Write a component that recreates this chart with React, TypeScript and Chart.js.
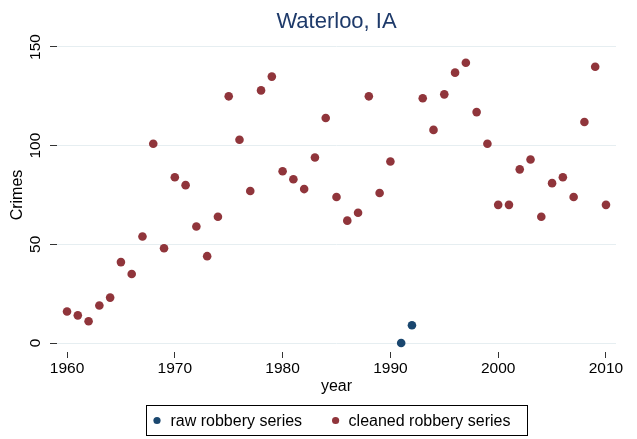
import React, { useEffect, useRef } from "react";
import { Chart, registerables } from "chart.js";

Chart.register(...registerables);

const chartTitle = "Waterloo, IA";
const xAxisTitle = "year";
const yAxisTitle = "Crimes";

const rawLabel = "raw robbery series";
const cleanedLabel = "cleaned robbery series";

const rawYears = [1991, 1992];
const rawValues = [0, 9];

const cleanedYears = [
  1960, 1961, 1962, 1963, 1964, 1965, 1966, 1967, 1968, 1969,
  1970, 1971, 1972, 1973, 1974, 1975, 1976, 1977, 1978, 1979,
  1980, 1981, 1982, 1983, 1984, 1985, 1986, 1987, 1988, 1989,
  1990, 1993, 1994, 1995, 1996, 1997, 1998, 1999, 2000, 2001,
  2002, 2003, 2004, 2005, 2006, 2007, 2008, 2009, 2010,
];
const cleanedValues = [
  16, 14, 11, 19, 23, 41, 35, 54, 101, 48,
  84, 80, 59, 44, 64, 125, 103, 77, 128, 135,
  87, 83, 78, 94, 114, 74, 62, 66, 125, 76,
  92, 124, 108, 126, 137, 142, 117, 101, 70, 70,
  88, 93, 64, 81, 84, 74, 112, 140, 70,
];

const xTicks = [1960, 1970, 1980, 1990, 2000, 2010];
const yTicks = [0, 50, 100, 150];

const FONT = "'Liberation Sans', Arial, Helvetica, sans-serif";
const NAVY = "#1a476f";
const TITLE_NAVY = "#1e3a6a";
const MAROON = "#90353b";

const titlePlugin = {
  id: "stataTitle",
  afterDraw(chart: any) {
    const { ctx, chartArea } = chart;
    ctx.save();
    ctx.font = `22px ${FONT}`;
    ctx.fillStyle = TITLE_NAVY;
    ctx.textAlign = "center";
    ctx.textBaseline = "alphabetic";
    ctx.fillText(chartTitle, (chartArea.left + chartArea.right) / 2, 27.5);
    ctx.restore();
  },
};

const legendPlugin = {
  id: "stataLegend",
  afterDraw(chart: any) {
    const { ctx, chartArea } = chart;
    ctx.save();
    ctx.font = `16px ${FONT}`;
    const w1 = ctx.measureText(rawLabel).width;
    const w2 = ctx.measureText(cleanedLabel).width;
    const total = 11 + 13.5 + w1 + 33.5 + 13 + w2 + 16.5;
    const cx = (chartArea.left + chartArea.right) / 2;
    const left = Math.round(cx - total / 2);
    const top = 405;
    const h = 30;
    ctx.strokeStyle = "#000";
    ctx.lineWidth = 1;
    ctx.strokeRect(left + 0.5, top + 0.5, Math.round(total), h);
    const dy = 420.5;
    const d1 = left + 11;
    const t1 = d1 + 13.5;
    const d2 = t1 + w1 + 33.5;
    const t2 = d2 + 13;
    ctx.fillStyle = NAVY;
    ctx.beginPath();
    ctx.arc(d1, dy, 3.6, 0, Math.PI * 2);
    ctx.fill();
    ctx.fillStyle = MAROON;
    ctx.beginPath();
    ctx.arc(d2, dy, 3.6, 0, Math.PI * 2);
    ctx.fill();
    ctx.fillStyle = "#000";
    ctx.textAlign = "left";
    ctx.textBaseline = "alphabetic";
    ctx.fillText(rawLabel, t1, 426);
    ctx.fillText(cleanedLabel, t2, 426);
    ctx.restore();
  },
};

export default function App() {
  const canvasRef = useRef<HTMLCanvasElement | null>(null);

  useEffect(() => {
    const canvas = canvasRef.current;
    if (!canvas) return;
    const chart = new Chart(canvas, {
      type: "scatter",
      data: {
        datasets: [
          {
            label: rawLabel,
            data: rawYears.map((x, i) => ({ x, y: rawValues[i] })),
            backgroundColor: NAVY,
            borderColor: NAVY,
            borderWidth: 0,
            pointRadius: 4.3,
          },
          {
            label: cleanedLabel,
            data: cleanedYears.map((x, i) => ({ x, y: cleanedValues[i] })),
            backgroundColor: MAROON,
            borderColor: MAROON,
            borderWidth: 0,
            pointRadius: 4.3,
          },
        ],
      },
      options: {
        responsive: false,
        animation: false,
        layout: { padding: { left: 4, right: 21, top: 38, bottom: 43 } },
        plugins: {
          legend: { display: false },
          title: { display: false },
          tooltip: { enabled: false },
        },
        scales: {
          x: {
            type: "linear",
            min: 1959.07,
            max: 2010.93,
            afterBuildTicks: (s: any) => {
              s.ticks = xTicks.map((v) => ({ value: v }));
            },
            afterFit: (s: any) => {
              s.height = 44;
            },
            border: { display: false },
            grid: {
              drawOnChartArea: false,
              drawTicks: true,
              tickLength: 6,
              tickColor: "#333",
            },
            ticks: {
              color: "#000",
              font: { family: FONT, size: 15.5 },
              padding: 1,
              maxRotation: 0,
              autoSkip: false,
              callback: (v: any) => String(v),
            },
            title: {
              display: true,
              text: xAxisTitle,
              color: "#000",
              font: { family: FONT, size: 16 },
              padding: { top: 0, bottom: 0 },
            },
          },
          y: {
            type: "linear",
            min: -4.56,
            max: 154.56,
            afterBuildTicks: (s: any) => {
              s.ticks = yTicks.map((v) => ({ value: v }));
            },
            afterFit: (s: any) => {
              s.width = 53;
            },
            border: { display: false },
            grid: {
              color: "#e6eef1",
              lineWidth: 1,
              drawTicks: true,
              tickLength: 7,
              tickColor: "#333",
            },
            ticks: {
              color: "#000",
              font: { family: FONT, size: 15.5 },
              padding: 1,
              minRotation: 90,
              maxRotation: 90,
              crossAlign: "center",
              autoSkip: false,
              callback: (v: any) => String(v),
            },
            title: {
              display: true,
              text: yAxisTitle,
              color: "#000",
              font: { family: FONT, size: 16 },
              padding: { top: 4.4, bottom: 0 },
            },
          },
        },
      },
      plugins: [titlePlugin, legendPlugin],
    } as any);
    return () => chart.destroy();
  }, []);

  return (
    <div style={{ position: "fixed", left: 0, top: 0, width: 637, height: 439, background: "#fff" }}>
      <canvas ref={canvasRef} width={637} height={439} />
    </div>
  );
}
